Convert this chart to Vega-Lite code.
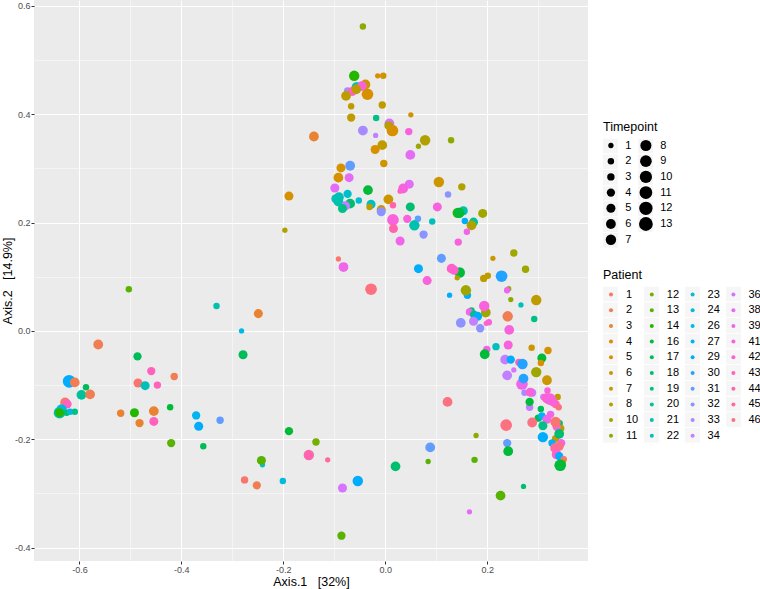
{"$schema":"https://vega.github.io/schema/vega-lite/v6.json","autosize":{"type":"none"},"padding":{"left":34,"top":0,"right":172,"bottom":28},"width":554,"height":561,"background":"white","view":{"fill":"#EBEBEB","stroke":null},"config":{"font":"Liberation Sans"},
"datasets":{"points":[
{"a1":-0.044,"a2":0.562,"Patient":11,"Timepoint":2},{"a1":-0.061,"a2":0.471,"Patient":14,"Timepoint":7},{"a1":-0.015,"a2":0.471,"Patient":5,"Timepoint":1},{"a1":-0.004,"a2":0.471,"Patient":6,"Timepoint":2},{"a1":-0.039,"a2":0.455,"Patient":6,"Timepoint":6},{"a1":-0.056,"a2":0.45,"Patient":22,"Timepoint":7},{"a1":-0.046,"a2":0.452,"Patient":41,"Timepoint":6},{"a1":-0.074,"a2":0.443,"Patient":33,"Timepoint":3},{"a1":-0.065,"a2":0.442,"Patient":42,"Timepoint":5},{"a1":-0.057,"a2":0.446,"Patient":7,"Timepoint":6},{"a1":-0.077,"a2":0.434,"Patient":7,"Timepoint":6},{"a1":-0.035,"a2":0.437,"Patient":5,"Timepoint":9},{"a1":-0.067,"a2":0.415,"Patient":7,"Timepoint":2},{"a1":-0.006,"a2":0.417,"Patient":7,"Timepoint":3},{"a1":0.05,"a2":0.399,"Patient":5,"Timepoint":1},{"a1":-0.067,"a2":0.394,"Patient":7,"Timepoint":4},{"a1":-0.018,"a2":0.393,"Patient":19,"Timepoint":2},{"a1":0.008,"a2":0.383,"Patient":36,"Timepoint":6},{"a1":0.007,"a2":0.379,"Patient":8,"Timepoint":5},{"a1":0.014,"a2":0.37,"Patient":5,"Timepoint":9},{"a1":-0.044,"a2":0.37,"Patient":33,"Timepoint":6},{"a1":-0.019,"a2":0.361,"Patient":34,"Timepoint":1},{"a1":0.046,"a2":0.368,"Patient":41,"Timepoint":3},{"a1":-0.14,"a2":0.359,"Patient":3,"Timepoint":6},{"a1":0.078,"a2":0.352,"Patient":8,"Timepoint":7},{"a1":0.129,"a2":0.352,"Patient":11,"Timepoint":2},{"a1":0.065,"a2":0.341,"Patient":10,"Timepoint":1},{"a1":-0.006,"a2":0.343,"Patient":7,"Timepoint":6},{"a1":-0.02,"a2":0.335,"Patient":5,"Timepoint":5},{"a1":0.049,"a2":0.325,"Patient":38,"Timepoint":6},{"a1":-0.003,"a2":0.309,"Patient":6,"Timepoint":3},{"a1":-0.069,"a2":0.305,"Patient":31,"Timepoint":6},{"a1":-0.087,"a2":0.301,"Patient":5,"Timepoint":5},{"a1":-0.092,"a2":0.283,"Patient":5,"Timepoint":6},{"a1":-0.071,"a2":0.283,"Patient":38,"Timepoint":5},{"a1":0.105,"a2":0.275,"Patient":6,"Timepoint":7},{"a1":0.15,"a2":0.266,"Patient":8,"Timepoint":3},{"a1":0.123,"a2":0.252,"Patient":32,"Timepoint":2},{"a1":0.029,"a2":0.258,"Patient":44,"Timepoint":1},{"a1":0.047,"a2":0.271,"Patient":38,"Timepoint":5},{"a1":0.035,"a2":0.263,"Patient":41,"Timepoint":6},{"a1":-0.099,"a2":0.264,"Patient":38,"Timepoint":5},{"a1":-0.034,"a2":0.26,"Patient":16,"Timepoint":6},{"a1":-0.189,"a2":0.249,"Patient":5,"Timepoint":5},{"a1":-0.074,"a2":0.253,"Patient":23,"Timepoint":4},{"a1":-0.052,"a2":0.241,"Patient":23,"Timepoint":2},{"a1":-0.091,"a2":0.247,"Patient":22,"Timepoint":6},{"a1":-0.097,"a2":0.244,"Patient":22,"Timepoint":5},{"a1":-0.092,"a2":0.239,"Patient":21,"Timepoint":6},{"a1":0.006,"a2":0.243,"Patient":6,"Timepoint":6},{"a1":-0.028,"a2":0.234,"Patient":22,"Timepoint":5},{"a1":-0.031,"a2":0.229,"Patient":7,"Timepoint":2},{"a1":-0.069,"a2":0.235,"Patient":18,"Timepoint":6},{"a1":-0.078,"a2":0.231,"Patient":34,"Timepoint":5},{"a1":-0.084,"a2":0.226,"Patient":19,"Timepoint":5},{"a1":0.015,"a2":0.232,"Patient":44,"Timepoint":2},{"a1":0.049,"a2":0.229,"Patient":18,"Timepoint":5},{"a1":-0.008,"a2":0.224,"Patient":6,"Timepoint":5},{"a1":-0.008,"a2":0.22,"Patient":32,"Timepoint":5},{"a1":0.102,"a2":0.229,"Patient":41,"Timepoint":5},
{"a1":0.153,"a2":0.222,"Patient":21,"Timepoint":5},{"a1":0.142,"a2":0.218,"Patient":14,"Timepoint":7},{"a1":0.145,"a2":0.218,"Patient":16,"Timepoint":7},{"a1":0.191,"a2":0.217,"Patient":10,"Timepoint":5},{"a1":0.015,"a2":0.205,"Patient":41,"Timepoint":9},{"a1":0.016,"a2":0.189,"Patient":44,"Timepoint":5},{"a1":0.043,"a2":0.207,"Patient":41,"Timepoint":4},{"a1":0.064,"a2":0.207,"Patient":31,"Timepoint":2},{"a1":0.057,"a2":0.195,"Patient":21,"Timepoint":7},{"a1":0.092,"a2":0.202,"Patient":22,"Timepoint":2},{"a1":0.156,"a2":0.203,"Patient":29,"Timepoint":2},{"a1":0.173,"a2":0.201,"Patient":20,"Timepoint":5},{"a1":0.169,"a2":0.195,"Patient":8,"Timepoint":6},{"a1":0.16,"a2":0.183,"Patient":39,"Timepoint":2},{"a1":0.143,"a2":0.164,"Patient":41,"Timepoint":3},{"a1":0.075,"a2":0.178,"Patient":32,"Timepoint":4},{"a1":0.029,"a2":0.166,"Patient":39,"Timepoint":5},{"a1":-0.197,"a2":0.186,"Patient":8,"Timepoint":1},{"a1":0.252,"a2":0.144,"Patient":10,"Timepoint":3},{"a1":0.211,"a2":0.134,"Patient":6,"Timepoint":1},{"a1":0.11,"a2":0.134,"Patient":31,"Timepoint":5},{"a1":-0.092,"a2":0.133,"Patient":1,"Timepoint":1},{"a1":-0.082,"a2":0.118,"Patient":39,"Timepoint":6},{"a1":0.065,"a2":0.115,"Patient":29,"Timepoint":5},{"a1":0.275,"a2":0.114,"Patient":10,"Timepoint":3},{"a1":0.146,"a2":0.108,"Patient":16,"Timepoint":7},{"a1":0.13,"a2":0.115,"Patient":42,"Timepoint":6},{"a1":0.135,"a2":0.112,"Patient":42,"Timepoint":5},{"a1":0.141,"a2":0.098,"Patient":8,"Timepoint":1},{"a1":0.082,"a2":0.093,"Patient":41,"Timepoint":5},{"a1":0.201,"a2":0.102,"Patient":7,"Timepoint":2},{"a1":0.193,"a2":0.097,"Patient":7,"Timepoint":3},{"a1":0.228,"a2":0.101,"Patient":30,"Timepoint":9},{"a1":-0.028,"a2":0.077,"Patient":46,"Timepoint":9},{"a1":0.242,"a2":0.078,"Patient":11,"Timepoint":1},{"a1":0.239,"a2":0.075,"Patient":39,"Timepoint":2},{"a1":0.246,"a2":0.058,"Patient":11,"Timepoint":1},{"a1":0.161,"a2":0.066,"Patient":29,"Timepoint":3},{"a1":0.158,"a2":0.075,"Patient":10,"Timepoint":7},{"a1":0.126,"a2":0.066,"Patient":29,"Timepoint":1},{"a1":0.266,"a2":0.048,"Patient":22,"Timepoint":1},{"a1":0.197,"a2":0.034,"Patient":10,"Timepoint":6},{"a1":0.194,"a2":0.046,"Patient":41,"Timepoint":7},{"a1":0.169,"a2":0.038,"Patient":18,"Timepoint":2},{"a1":0.165,"a2":0.035,"Patient":39,"Timepoint":3},{"a1":0.174,"a2":0.03,"Patient":19,"Timepoint":4},{"a1":0.181,"a2":0.027,"Patient":29,"Timepoint":5},{"a1":0.24,"a2":0.027,"Patient":2,"Timepoint":7},{"a1":0.148,"a2":0.015,"Patient":32,"Timepoint":6},{"a1":0.173,"a2":0.018,"Patient":34,"Timepoint":5},{"a1":0.203,"a2":0.016,"Patient":41,"Timepoint":2},{"a1":0.198,"a2":0.014,"Patient":42,"Timepoint":1},{"a1":0.186,"a2":0.005,"Patient":32,"Timepoint":4},{"a1":0.243,"a2":0.002,"Patient":41,"Timepoint":6},{"a1":0.296,"a2":0.057,"Patient":7,"Timepoint":7},{"a1":0.292,"a2":0.022,"Patient":19,"Timepoint":2},
{"a1":0.241,"a2":-0.026,"Patient":41,"Timepoint":5},{"a1":0.199,"a2":-0.034,"Patient":39,"Timepoint":3},{"a1":0.217,"a2":-0.029,"Patient":22,"Timepoint":3},{"a1":0.195,"a2":-0.043,"Patient":16,"Timepoint":6},{"a1":0.287,"a2":-0.031,"Patient":6,"Timepoint":2},{"a1":0.319,"a2":-0.036,"Patient":5,"Timepoint":3},{"a1":0.307,"a2":-0.05,"Patient":16,"Timepoint":5},{"a1":0.305,"a2":-0.059,"Patient":5,"Timepoint":2},{"a1":0.235,"a2":-0.053,"Patient":34,"Timepoint":6},{"a1":0.246,"a2":-0.053,"Patient":29,"Timepoint":4},{"a1":0.262,"a2":-0.058,"Patient":43,"Timepoint":3},{"a1":0.269,"a2":-0.061,"Patient":30,"Timepoint":7},{"a1":0.252,"a2":-0.072,"Patient":36,"Timepoint":1},{"a1":0.296,"a2":-0.076,"Patient":10,"Timepoint":7},{"a1":0.239,"a2":-0.082,"Patient":34,"Timepoint":6},{"a1":0.317,"a2":-0.091,"Patient":6,"Timepoint":6},{"a1":0.268,"a2":-0.098,"Patient":39,"Timepoint":9},{"a1":0.271,"a2":-0.088,"Patient":30,"Timepoint":6},{"a1":0.273,"a2":-0.114,"Patient":33,"Timepoint":2},{"a1":0.288,"a2":-0.114,"Patient":34,"Timepoint":4},{"a1":0.284,"a2":-0.113,"Patient":41,"Timepoint":5},{"a1":0.318,"a2":-0.11,"Patient":41,"Timepoint":2},{"a1":0.31,"a2":-0.122,"Patient":36,"Timepoint":2},{"a1":0.338,"a2":-0.122,"Patient":7,"Timepoint":2},{"a1":0.334,"a2":-0.135,"Patient":44,"Timepoint":4},{"a1":0.34,"a2":-0.141,"Patient":46,"Timepoint":2},{"a1":0.317,"a2":-0.124,"Patient":42,"Timepoint":7},{"a1":0.328,"a2":-0.13,"Patient":41,"Timepoint":6},{"a1":0.323,"a2":-0.126,"Patient":41,"Timepoint":9},{"a1":0.283,"a2":-0.141,"Patient":34,"Timepoint":3},{"a1":0.283,"a2":-0.131,"Patient":16,"Timepoint":4},{"a1":0.305,"a2":-0.144,"Patient":17,"Timepoint":2},{"a1":0.122,"a2":-0.131,"Patient":46,"Timepoint":6},{"a1":0.3,"a2":-0.161,"Patient":17,"Timepoint":3},{"a1":0.307,"a2":-0.157,"Patient":27,"Timepoint":3},{"a1":0.324,"a2":-0.154,"Patient":39,"Timepoint":3},{"a1":0.317,"a2":-0.163,"Patient":39,"Timepoint":5},{"a1":0.288,"a2":-0.169,"Patient":46,"Timepoint":6},{"a1":0.237,"a2":-0.174,"Patient":46,"Timepoint":9},{"a1":0.309,"a2":-0.175,"Patient":19,"Timepoint":5},{"a1":0.341,"a2":-0.171,"Patient":18,"Timepoint":3},{"a1":0.344,"a2":-0.18,"Patient":7,"Timepoint":3},{"a1":0.336,"a2":-0.177,"Patient":41,"Timepoint":4},{"a1":0.334,"a2":-0.168,"Patient":1,"Timepoint":7},{"a1":0.334,"a2":-0.199,"Patient":6,"Timepoint":3},{"a1":0.341,"a2":-0.19,"Patient":18,"Timepoint":6},{"a1":0.178,"a2":-0.193,"Patient":11,"Timepoint":1},{"a1":0.309,"a2":-0.196,"Patient":29,"Timepoint":7},{"a1":0.345,"a2":-0.207,"Patient":39,"Timepoint":4},{"a1":0.327,"a2":-0.207,"Patient":27,"Timepoint":3},{"a1":0.239,"a2":-0.207,"Patient":31,"Timepoint":4},{"a1":0.241,"a2":-0.222,"Patient":16,"Timepoint":6},{"a1":0.341,"a2":-0.213,"Patient":46,"Timepoint":5},{"a1":0.333,"a2":-0.216,"Patient":45,"Timepoint":6},{"a1":0.336,"a2":-0.228,"Patient":42,"Timepoint":6},{"a1":0.341,"a2":-0.231,"Patient":29,"Timepoint":4},{"a1":0.35,"a2":-0.237,"Patient":1,"Timepoint":2},{"a1":0.347,"a2":-0.244,"Patient":10,"Timepoint":3},{"a1":0.343,"a2":-0.248,"Patient":16,"Timepoint":9},{"a1":0.175,"a2":-0.238,"Patient":13,"Timepoint":2},{"a1":0.088,"a2":-0.215,"Patient":31,"Timepoint":6},{"a1":0.02,"a2":-0.25,"Patient":18,"Timepoint":6},{"a1":0.084,"a2":-0.241,"Patient":13,"Timepoint":1},{"a1":-0.054,"a2":-0.277,"Patient":29,"Timepoint":7},{"a1":-0.084,"a2":-0.29,"Patient":36,"Timepoint":5},{"a1":0.271,"a2":-0.287,"Patient":18,"Timepoint":1},{"a1":0.226,"a2":-0.304,"Patient":13,"Timepoint":6},{"a1":0.165,"a2":-0.334,"Patient":38,"Timepoint":1},{"a1":-0.086,"a2":-0.378,"Patient":13,"Timepoint":4},
{"a1":-0.482,"a2":-0.17,"Patient":3,"Timepoint":4},{"a1":-0.454,"a2":-0.167,"Patient":43,"Timepoint":5},{"a1":-0.366,"a2":-0.176,"Patient":29,"Timepoint":5},{"a1":-0.324,"a2":-0.165,"Patient":31,"Timepoint":3},{"a1":-0.189,"a2":-0.185,"Patient":16,"Timepoint":4},{"a1":-0.42,"a2":-0.207,"Patient":13,"Timepoint":4},{"a1":-0.357,"a2":-0.213,"Patient":17,"Timepoint":2},{"a1":-0.136,"a2":-0.205,"Patient":12,"Timepoint":3},{"a1":-0.241,"a2":-0.247,"Patient":23,"Timepoint":1},{"a1":-0.243,"a2":-0.239,"Patient":13,"Timepoint":5},{"a1":-0.15,"a2":-0.229,"Patient":44,"Timepoint":7},{"a1":-0.113,"a2":-0.238,"Patient":45,"Timepoint":1},{"a1":-0.276,"a2":-0.275,"Patient":1,"Timepoint":3},{"a1":-0.252,"a2":-0.285,"Patient":2,"Timepoint":4},{"a1":-0.201,"a2":-0.277,"Patient":24,"Timepoint":2},{"a1":-0.503,"a2":0.077,"Patient":13,"Timepoint":2},{"a1":-0.331,"a2":0.046,"Patient":21,"Timepoint":2},{"a1":-0.249,"a2":0.032,"Patient":3,"Timepoint":5},{"a1":-0.282,"a2":0.0,"Patient":26,"Timepoint":1},{"a1":-0.563,"a2":-0.025,"Patient":2,"Timepoint":6},{"a1":-0.279,"a2":-0.044,"Patient":17,"Timepoint":5},{"a1":-0.486,"a2":-0.047,"Patient":17,"Timepoint":4},{"a1":-0.459,"a2":-0.074,"Patient":43,"Timepoint":4},{"a1":-0.414,"a2":-0.084,"Patient":2,"Timepoint":3},{"a1":-0.62,"a2":-0.093,"Patient":29,"Timepoint":11},{"a1":-0.609,"a2":-0.095,"Patient":2,"Timepoint":6},{"a1":-0.485,"a2":-0.096,"Patient":1,"Timepoint":5},{"a1":-0.471,"a2":-0.101,"Patient":22,"Timepoint":5},{"a1":-0.447,"a2":-0.1,"Patient":43,"Timepoint":3},{"a1":-0.587,"a2":-0.104,"Patient":17,"Timepoint":2},{"a1":-0.596,"a2":-0.118,"Patient":20,"Timepoint":6},{"a1":-0.579,"a2":-0.117,"Patient":2,"Timepoint":6},{"a1":-0.628,"a2":-0.132,"Patient":1,"Timepoint":6},{"a1":-0.624,"a2":-0.135,"Patient":43,"Timepoint":5},{"a1":-0.635,"a2":-0.145,"Patient":26,"Timepoint":7},{"a1":-0.519,"a2":-0.152,"Patient":3,"Timepoint":3},{"a1":-0.492,"a2":-0.151,"Patient":14,"Timepoint":5},{"a1":-0.454,"a2":-0.148,"Patient":3,"Timepoint":6},{"a1":-0.422,"a2":-0.141,"Patient":16,"Timepoint":2},{"a1":-0.371,"a2":-0.156,"Patient":27,"Timepoint":4},{"a1":-0.639,"a2":-0.151,"Patient":22,"Timepoint":9},{"a1":-0.625,"a2":-0.151,"Patient":18,"Timepoint":2},{"a1":-0.618,"a2":-0.149,"Patient":26,"Timepoint":2},{"a1":-0.609,"a2":-0.149,"Patient":19,"Timepoint":2},{"a1":-0.639,"a2":-0.151,"Patient":14,"Timepoint":5}
]},
"data":{"name":"points"},
"layer":[
{"mark":{"type":"point","filled":true,"size":0,"color":"#F2F2F2"},"encoding":{
"x":{"field":"a1","type":"quantitative","scale":{"domain":[-0.689,0.3975],"nice":false,"zero":false},"axis":{"orient":"bottom","values":[-0.6,-0.4,-0.2,0,0.2],"labelExpr":"replace(format(datum.value,'.1f'),'−','-')","labelFontSize":9,"labelColor":"#4D4D4D","labelPadding":1,"tickColor":"#333333","tickSize":3,"tickWidth":1,"domain":false,"grid":true,"gridColor":"#FFFFFF","gridWidth":1,"title":"Axis.1\u00a0\u00a0\u00a0[32%]","titleFontSize":12.5,"titleFontWeight":"normal","titleColor":"#000000","titlePadding":1}},
"y":{"field":"a2","type":"quantitative","scale":{"domain":[-0.4247,0.611],"nice":false,"zero":false},"axis":{"orient":"left","values":[-0.4,-0.2,0,0.2,0.4,0.6],"labelExpr":"replace(format(datum.value,'.1f'),'−','-')","labelFontSize":9,"labelColor":"#4D4D4D","labelPadding":1,"tickColor":"#333333","tickSize":3,"tickWidth":1,"domain":false,"grid":true,"gridColor":"#FFFFFF","gridWidth":1,"title":"Axis.2\u00a0\u00a0\u00a0[14.9%]","titleFontSize":12.5,"titleFontWeight":"normal","titleColor":"#000000","titlePadding":0}},
"shape":{"field":"Patient","type":"ordinal","scale":{"domain":[1,2,3,4,5,6,7,8,10,11,12,13,14,16,17,18,19,20,21,22,23,24,26,27,29,30,31,32,33,34,36,38,39,41,42,43,44,45,46],"range":["square"]},"legend":{"orient":"none","legendX":569,"legendY":269,"title":"Patient","titleFontSize":12.5,"titleFontWeight":"normal","titleColor":"#000000","titlePadding":5,"columns":4,"direction":"vertical","gridAlign":"all","symbolLimit":0,"symbolType":"square","symbolSize":225,"symbolStrokeWidth":0,"labelExpr":"''","labelFontSize":11,"labelOffset":0,"clipHeight":15,"rowPadding":0.7,"columnPadding":26,"zindex":0}}
}},
{"mark":{"type":"point","filled":true,"size":0,"color":"#F2F2F2"},"encoding":{
"x":{"field":"a1","type":"quantitative","axis":{"orient":"top","values":[-0.5,-0.3,-0.1,0.1,0.3],"labels":false,"ticks":false,"domain":false,"grid":true,"gridColor":"#FFFFFF","gridWidth":0.5,"title":null}},
"y":{"field":"a2","type":"quantitative","axis":{"orient":"right","values":[-0.3,-0.1,0.1,0.3,0.5],"labels":false,"ticks":false,"domain":false,"grid":true,"gridColor":"#FFFFFF","gridWidth":0.5,"title":null}},
"shape":{"field":"Timepoint","type":"ordinal","scale":{"domain":[1,2,3,4,5,6,7,8,9,10,11,12,13],"range":["square"]},"legend":{"orient":"none","legendX":569,"legendY":121,"title":"Timepoint","titleFontSize":12.5,"titleFontWeight":"normal","titleColor":"#000000","titlePadding":5,"columns":2,"direction":"vertical","gridAlign":"all","symbolLimit":0,"symbolType":"square","symbolSize":225,"symbolStrokeWidth":0,"labelExpr":"''","labelFontSize":11,"labelOffset":0,"clipHeight":15,"rowPadding":0.7,"columnPadding":20,"zindex":0}}
}},
{"mark":{"type":"circle","opacity":1},"encoding":{
"x":{"field":"a1","type":"quantitative","axis":null},
"y":{"field":"a2","type":"quantitative","axis":null},
"size":{"field":"Timepoint","type":"quantitative","scale":{"domain":[1,13],"range":[28,190]},"legend":{"orient":"none","legendX":569.9,"legendY":138,"title":null,"values":[1,2,3,4,5,6,7,8,9,10,11,12,13],"format":"d","columns":2,"direction":"vertical","gridAlign":"all","symbolLimit":0,"symbolFillColor":"#000000","symbolStrokeWidth":0,"labelFontSize":11,"labelColor":"#000000","labelOffset":7.3,"clipHeight":15,"rowPadding":0.7,"columnPadding":1,"zindex":1}},
"color":{"field":"Patient","type":"ordinal","scale":{"domain":[1,2,3,4,5,6,7,8,10,11,12,13,14,16,17,18,19,20,21,22,23,24,26,27,29,30,31,32,33,34,36,38,39,41,42,43,44,45,46],"range":["#F8766D","#F17D52","#E98331","#E08B00","#D79100","#CC9600","#BE9C00","#B0A100","#9FA600","#8CAB00","#75AF00","#58B300","#24B700","#00BA38","#00BC58","#00BE70","#00C087","#00C19A","#00C1AB","#00C0BB","#00BECC","#00BBDA","#00B8E5","#00B3F2","#00ACFC","#22A3FF","#619CFF","#8B93FF","#A989FF","#C27FFF","#D575FE","#E56CF5","#F066EA","#F962DD","#FE61CE","#FF62BD","#FF65AC","#FF6A98","#FC7080"]},"legend":{"orient":"none","legendX":571.5,"legendY":287,"title":null,"columns":4,"direction":"vertical","gridAlign":"all","symbolLimit":0,"symbolType":"circle","symbolSize":16,"symbolStrokeWidth":0,"labelFontSize":11,"labelColor":"#000000","labelOffset":9.5,"clipHeight":15,"rowPadding":0.7,"columnPadding":7.8,"zindex":1}}
}}
],
"resolve":{"scale":{"shape":"independent"},"legend":{"shape":"independent"},"axis":{"x":"independent","y":"independent"}}
}
